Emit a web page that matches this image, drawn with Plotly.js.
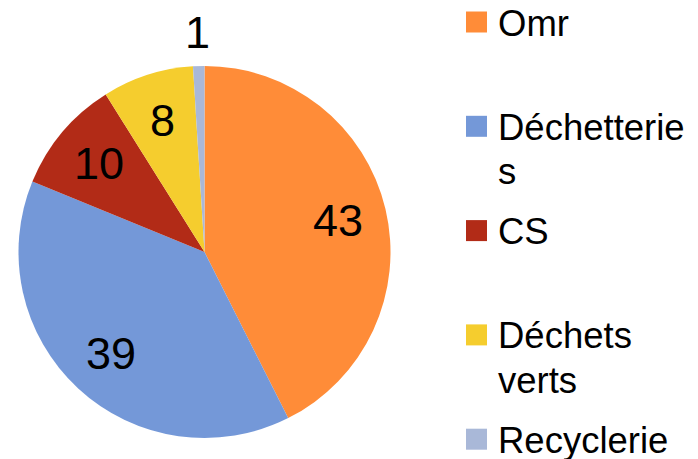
<!DOCTYPE html>
<html>
<head>
<meta charset="utf-8">
<script src="https://cdn.plot.ly/plotly-3.0.1.min.js"></script>
<style>html,body{margin:0;padding:0;background:#fff;}#chart{width:698px;height:459px;}</style>
</head>
<body>
<div id="chart"></div>
<script>
// ---- data ----
const categories = ['Omr', 'Déchetteries', 'CS', 'Déchets verts', 'Recyclerie'];
const values = [43, 39, 10, 8, 1];
const colors = ['#FF8C38', '#7498D8', '#B22B17', '#F5CD2E', '#A9B8D8'];
// legend text as wrapped in the original
const legendLines = [['Omr'], ['Déchetterie', 's'], ['CS'], ['Déchets', 'verts'], ['Recyclerie']];

// ---- layout helpers ----
const W = 698, H = 459;
const px = x => x / W;
const py = y => 1 - y / H;
const FONT = 'Liberation Sans, Arial, sans-serif';

// pie placement (pixels)
const pieL = 18, pieR = 391, pieT = 66, pieB = 438;
const cx = (pieL + pieR) / 2, cy = (pieT + pieB) / 2;
const R = Math.min(pieR - pieL, pieB - pieT) / 2;
const insideFrac = 0.74, outsideFrac = 1.18;

const legendTop = 23, legendPitch = 104.3, lineGap = 44.5;
const markerX0 = 466, markerSize = 21, textX = 496;

const annotations = [];
const shapes = [];
legendLines.forEach((lines, i) => {
  const c = legendTop + i * legendPitch;
  shapes.push({
    type: 'rect', xref: 'paper', yref: 'paper',
    x0: px(markerX0), x1: px(markerX0 + markerSize),
    y0: py(c - 1 + markerSize / 2), y1: py(c - 1 - markerSize / 2),
    fillcolor: colors[i], line: {width: 0}
  });
  lines.forEach((t, j) => {
    annotations.push({
      xref: 'paper', yref: 'paper', x: px(textX), y: py(c + j * lineGap),
      xanchor: 'left', yanchor: 'middle', showarrow: false, text: t,
      font: {family: FONT, size: 36.5, color: '#000'}
    });
  });
});

// value labels placed on each slice's bisector (derived from the data)
const total = values.reduce((a, b) => a + b, 0);
let cum = 0;
values.forEach(v => {
  const mid = (cum + v / 2) / total * 2 * Math.PI;
  cum += v;
  const f = v / total < 0.03 ? outsideFrac : insideFrac;
  annotations.push({
    xref: 'paper', yref: 'paper',
    x: px(cx + f * R * Math.sin(mid)), y: py(cy - f * R * Math.cos(mid)),
    xanchor: 'center', yanchor: 'middle', showarrow: false, text: String(v),
    font: {family: FONT, size: 45, color: '#000'}
  });
});

const trace = {
  type: 'pie',
  labels: categories,
  values: values,
  sort: false,
  direction: 'clockwise',
  rotation: 0,
  marker: {colors: colors, line: {width: 0}},
  textinfo: 'none',
  automargin: false,
  showlegend: false,
  hoverinfo: 'label+value',
  domain: {x: [px(pieL), px(pieR)], y: [py(pieB), py(pieT)]}
};

const layout = {
  width: W, height: H,
  margin: {l: 0, r: 0, t: 0, b: 0},
  paper_bgcolor: '#fff',
  plot_bgcolor: '#fff',
  showlegend: false,
  annotations: annotations,
  shapes: shapes,
  font: {family: FONT}
};

Plotly.newPlot('chart', [trace], layout, {displayModeBar: false, staticPlot: true});
</script>
</body>
</html>
